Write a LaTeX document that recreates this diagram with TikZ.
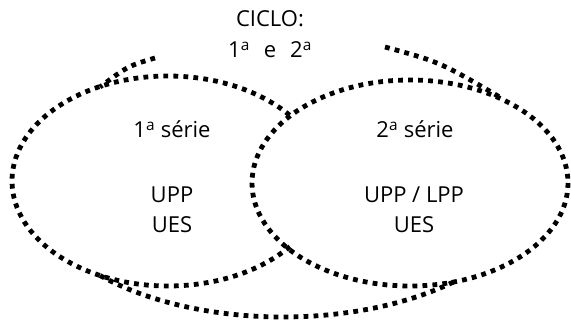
\documentclass[tikz,border=0pt]{standalone}
\usepackage{fontspec}
\setmainfont{Open Sans}
\begin{document}
\begin{tikzpicture}[x=1pt,y=-1pt,
  dotline/.style={line width=4.8pt, dash pattern=on 4.8pt off 5.2pt, line cap=butt},
  lbl/.style={anchor=base, inner sep=0pt, font=\fontsize{22}{30}\selectfont}]
\useasboundingbox (0,0) rectangle (571,321);
% right ellipse (full)
\coordinate (rc) at (410,183);
\draw[dotline] (rc) ellipse [x radius=158, y radius=103];
% left ellipse (outside part only)
\coordinate (lc) at (168,181);
\draw[dotline] (lc) ++(38.6:156 and 105) arc[start angle=38.6, end angle=321.4, x radius=156, y radius=105];
% big outer curve pieces
\coordinate (tl1) at (155,58);
\coordinate (tl2) at (100,87);
\draw[dotline] (tl1) .. controls (128,66) .. (tl2);
\coordinate (tr1) at (385,47);
\coordinate (tr2) at (503,99);
\draw[dotline] (tr1) .. controls (440,62) .. (tr2);
\coordinate (bc) at (283,183);
\draw[dotline] (bc) ++(136.3:253 and 134) arc[start angle=136.3, end angle=47.8, x radius=253, y radius=134];
% texts
\node[lbl] (ciclo) at (270,27) {CICLO:};
\node[lbl] (ord) at (270,58) {1\textsuperscript{a}\hspace{14pt}e\hspace{14pt}2\textsuperscript{a}};
\node[lbl] (s1) at (172,138) {1\textsuperscript{a} série};
\node[lbl] (u1a) at (172,202) {UPP};
\node[lbl] (u1b) at (172,232) {UES};
\node[lbl] (s2) at (415,138) {2\textsuperscript{a} série};
\node[lbl] (u2a) at (414,202) {UPP / LPP};
\node[lbl] (u2b) at (414,232) {UES};
\end{tikzpicture}
\end{document}
